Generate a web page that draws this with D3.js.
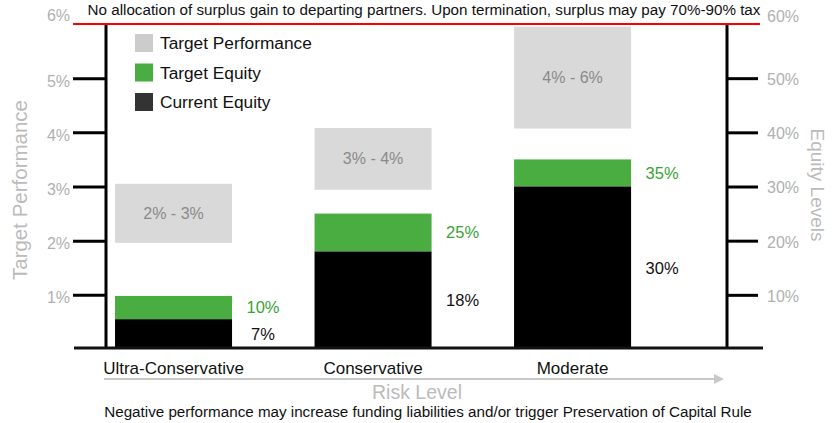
<!DOCTYPE html>
<html>
<head>
<meta charset="utf-8">
<script src="https://cdn.jsdelivr.net/npm/d3@7"></script>
<style>
  html, body { margin: 0; padding: 0; background: #fff; }
  svg { display: block; font-family: "Liberation Sans", Arial, sans-serif; }
</style>
</head>
<body>
<div id="viz"></div>
<script>
// chart values
var categories = ["Ultra-Conservative", "Conservative", "Moderate"];
var perfLow = [1.96, 2.94, 4.07];
var perfHigh = [3.05, 4.08, 5.95];
var perfLabels = ["2% - 3%", "3% - 4%", "4% - 6%"];
var currentEquity = [5.5, 18, 30];
var targetEquity = [9.8, 25, 35];
var currentLabels = ["7%", "18%", "30%"];
var targetLabels = ["10%", "25%", "35%"];
var perfTicks = [1, 2, 3, 4, 5, 6];
var equityTicks = [10, 20, 30, 40, 50, 60];
var legendItems = ["Target Performance", "Target Equity", "Current Equity"];

var topNote = "No allocation of surplus gain to departing partners. Upon termination, surplus may pay 70%-90% tax";
var bottomNote = "Negative performance may increase funding liabilities and/or trigger Preservation of Capital Rule";

var width = 840, height = 423;
var leftX = 106, rightX = 727;
var green = "#4aad41", grey = "#d9d9d9", tickGrey = "#b0b0b0";

var svg = d3.select("#viz").append("svg")
    .attr("width", width)
    .attr("height", height);

var y = d3.scaleLinear().domain([0, 6]).range([349, 24]);
var yEq = d3.scaleLinear().domain([0, 60]).range([349, 24]);
var x = d3.scaleBand().domain(categories)
    .range([leftX, rightX])
    .paddingInner(0.4135)
    .paddingOuter(0.263)
    .align(0.086);

var rows = categories.map(function(c, i) {
  return {cat: c, lo: perfLow[i], hi: perfHigh[i], plabel: perfLabels[i],
          cur: currentEquity[i], tgt: targetEquity[i],
          clabel: currentLabels[i], tlabel: targetLabels[i]};
});

// target performance boxes
svg.selectAll(".perf").data(rows).enter().append("rect")
    .attr("x", d => x(d.cat))
    .attr("width", x.bandwidth())
    .attr("y", d => y(d.hi))
    .attr("height", d => y(d.lo) - y(d.hi))
    .attr("fill", grey);
svg.selectAll(".perfText").data(rows).enter().append("text")
    .attr("x", d => x(d.cat) + x.bandwidth() / 2)
    .attr("y", d => (y(d.lo) + y(d.hi)) / 2)
    .attr("dy", "0.35em")
    .attr("text-anchor", "middle")
    .attr("font-size", 16)
    .attr("fill", "#8a8a8a")
    .text(d => d.plabel);

// equity bars
svg.selectAll(".tgt").data(rows).enter().append("rect")
    .attr("x", d => x(d.cat))
    .attr("width", x.bandwidth())
    .attr("y", d => yEq(d.tgt))
    .attr("height", d => yEq(d.cur) - yEq(d.tgt))
    .attr("fill", green);
svg.selectAll(".cur").data(rows).enter().append("rect")
    .attr("x", d => x(d.cat))
    .attr("width", x.bandwidth())
    .attr("y", d => yEq(d.cur))
    .attr("height", d => yEq(0) - yEq(d.cur))
    .attr("fill", "#000");

svg.selectAll(".tgtText").data(rows).enter().append("text")
    .attr("x", d => x(d.cat) + x.bandwidth() + 31)
    .attr("y", d => (yEq(d.tgt) + yEq(d.cur)) / 2)
    .attr("dy", "0.35em")
    .attr("text-anchor", "middle")
    .attr("font-size", 16.5)
    .attr("fill", "#3aa335")
    .text(d => d.tlabel);
svg.selectAll(".curText").data(rows).enter().append("text")
    .attr("x", d => x(d.cat) + x.bandwidth() + 31)
    .attr("y", d => (yEq(d.cur) + yEq(0)) / 2)
    .attr("dy", "0.35em")
    .attr("text-anchor", "middle")
    .attr("font-size", 16.5)
    .attr("fill", "#111")
    .text(d => d.clabel);

// left axis
var gl = svg.append("g").attr("transform", "translate(" + leftX + ",0)")
    .call(d3.axisLeft(y).tickValues(perfTicks).tickSize(33).tickPadding(3)
      .tickFormat(d => d + "%"));
gl.select(".domain").remove();
gl.selectAll(".tick line").attr("stroke", "#000").attr("stroke-width", 3);
gl.selectAll(".tick text").attr("font-size", 16).attr("fill", tickGrey)
    .attr("font-family", "Liberation Sans, Arial, sans-serif")
    .attr("dy", d => d === 6 ? "-0.2em" : "0.5em");
gl.select(".tick:last-of-type line").remove();

// right axis
var gr = svg.append("g").attr("transform", "translate(" + rightX + ",0)")
    .call(d3.axisRight(yEq).tickValues(equityTicks).tickSize(31).tickPadding(9)
      .tickFormat(d => d + "%"));
gr.select(".domain").remove();
gr.selectAll(".tick line").attr("stroke", "#000").attr("stroke-width", 3);
gr.selectAll(".tick text").attr("font-size", 16).attr("fill", tickGrey)
    .attr("font-family", "Liberation Sans, Arial, sans-serif")
    .attr("dy", d => d === 60 ? "-0.15em" : "0.4em");
gr.select(".tick:last-of-type line").remove();

// vertical axis lines
svg.append("line").attr("x1", leftX).attr("x2", leftX)
    .attr("y1", y(6)).attr("y2", y(0)).attr("stroke", "#000").attr("stroke-width", 3);
svg.append("line").attr("x1", rightX).attr("x2", rightX)
    .attr("y1", y(6)).attr("y2", y(0)).attr("stroke", "#000").attr("stroke-width", 3);

// baseline
svg.append("line").attr("x1", 74).attr("x2", 763)
    .attr("y1", 348).attr("y2", 348).attr("stroke", "#111").attr("stroke-width", 3);

// red cap line
svg.append("line").attr("x1", 73).attr("x2", 760)
    .attr("y1", y(6)).attr("y2", y(6)).attr("stroke", "#ff0000").attr("stroke-width", 2);
svg.append("text").attr("x", 424).attr("y", 15)
    .attr("text-anchor", "middle").attr("font-size", 15.2).attr("fill", "#111")
    .text(topNote);

// legend
var lg = svg.selectAll(".leg").data(legendItems).enter().append("g")
    .attr("transform", (d, i) => "translate(135," + (34 + i * 29.5) + ")");
lg.append("rect").attr("width", 18).attr("height", 18)
    .attr("fill", (d, i) => [ "#cccccc", green, "#333333" ][i]);
lg.append("text").attr("x", 25).attr("y", 9).attr("dy", "0.35em")
    .attr("font-size", 17.3).attr("fill", "#111").text(d => d);

// category labels
svg.selectAll(".cat").data(categories).enter().append("text")
    .attr("x", d => x(d) + x.bandwidth() / 2)
    .attr("y", 374)
    .attr("text-anchor", "middle")
    .attr("font-size", 17)
    .attr("fill", "#111")
    .text(d => d);

// risk arrow
svg.append("defs").append("marker")
    .attr("id", "arr").attr("viewBox", "0 0 10 10")
    .attr("refX", 2).attr("refY", 5)
    .attr("markerWidth", 5).attr("markerHeight", 5)
    .attr("orient", "auto")
  .append("path").attr("d", "M0,0L10,5L0,10z").attr("fill", "#c8c8c8");
svg.append("line").attr("x1", 104).attr("x2", 716)
    .attr("y1", 379).attr("y2", 379)
    .attr("stroke", "#c8c8c8").attr("stroke-width", 2)
    .attr("marker-end", "url(#arr)");
svg.append("text").attr("x", 417).attr("y", 392).attr("dy", "0.35em")
    .attr("text-anchor", "middle").attr("font-size", 19.5).attr("fill", "#bbb")
    .text("Risk Level");

svg.append("text").attr("x", 428).attr("y", 412).attr("dy", "0.35em")
    .attr("text-anchor", "middle").attr("font-size", 15.2).attr("fill", "#111")
    .text(bottomNote);

// axis titles
svg.append("text")
    .attr("transform", "translate(20,190) rotate(-90)")
    .attr("dy", "0.35em").attr("text-anchor", "middle")
    .attr("font-size", 20.5).attr("fill", "#bbb")
    .text("Target Performance");
svg.append("text")
    .attr("transform", "translate(818,185) rotate(90)")
    .attr("dy", "0.35em").attr("text-anchor", "middle")
    .attr("font-size", 19).attr("fill", "#bbb")
    .text("Equity Levels");
</script>
</body>
</html>
